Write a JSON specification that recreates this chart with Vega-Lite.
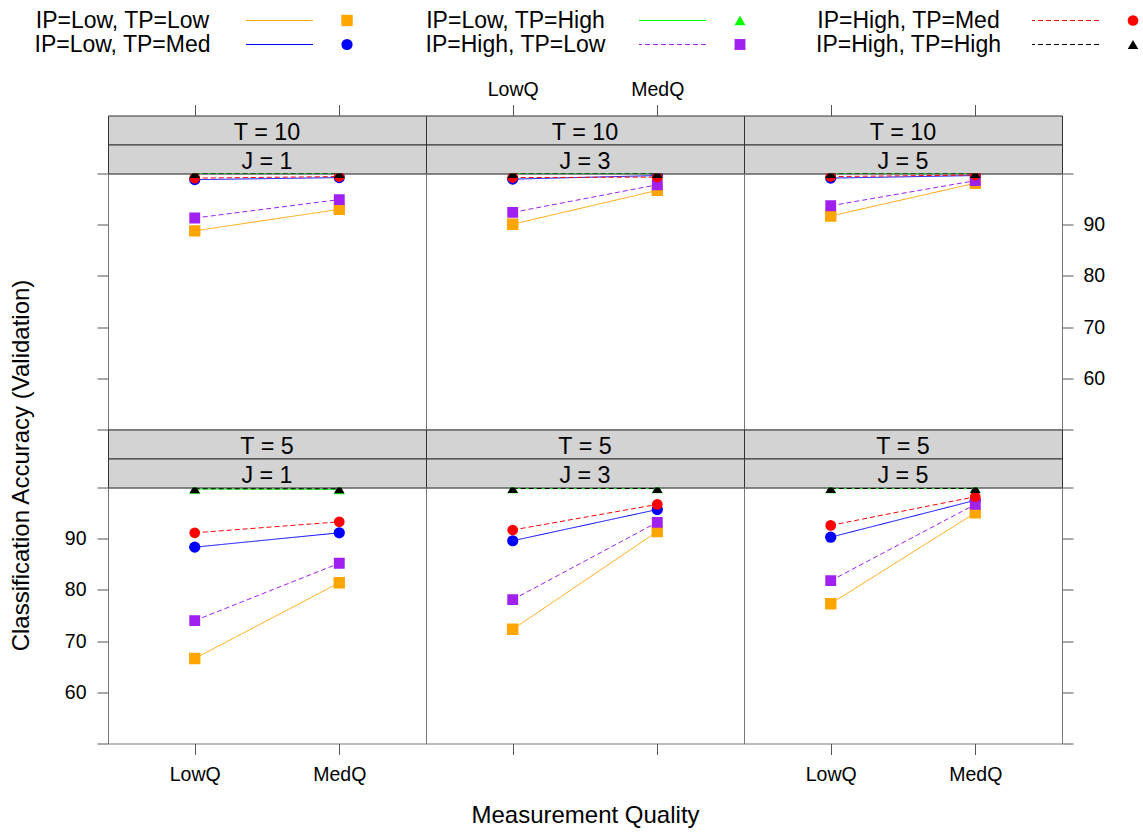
{
"$schema": "https://vega.github.io/schema/vega-lite/v6.json",
"background": "white",
"padding": {"left": 5, "top": 8.5, "right": 0, "bottom": 0},
"config": {"font": "Liberation Sans", "view": {"stroke": null}, "axis": {"grid": false, "domain": false, "tickColor": "#555", "tickSize": 11, "labelColor": "#000", "labelFontSize": 19.5, "labelFlush": false}},
"datasets": {
"keys": [{"series": "IP=Low, TP=Low"}, {"series": "IP=Low, TP=Med"}, {"series": "IP=Low, TP=High"}, {"series": "IP=High, TP=Low"}, {"series": "IP=High, TP=Med"}, {"series": "IP=High, TP=High"}],
"acc": [
{"T":10,"J":1,"Q":"LowQ","series":"IP=Low, TP=Low","acc":88.8},{"T":10,"J":1,"Q":"MedQ","series":"IP=Low, TP=Low","acc":93.0},
{"T":10,"J":1,"Q":"LowQ","series":"IP=Low, TP=Med","acc":98.8},{"T":10,"J":1,"Q":"MedQ","series":"IP=Low, TP=Med","acc":99.2},
{"T":10,"J":1,"Q":"LowQ","series":"IP=Low, TP=High","acc":100},{"T":10,"J":1,"Q":"MedQ","series":"IP=Low, TP=High","acc":100},
{"T":10,"J":1,"Q":"LowQ","series":"IP=High, TP=Low","acc":91.3},{"T":10,"J":1,"Q":"MedQ","series":"IP=High, TP=Low","acc":94.9},
{"T":10,"J":1,"Q":"LowQ","series":"IP=High, TP=Med","acc":99.1},{"T":10,"J":1,"Q":"MedQ","series":"IP=High, TP=Med","acc":99.4},
{"T":10,"J":1,"Q":"LowQ","series":"IP=High, TP=High","acc":100},{"T":10,"J":1,"Q":"MedQ","series":"IP=High, TP=High","acc":100},
{"T":10,"J":3,"Q":"LowQ","series":"IP=Low, TP=Low","acc":90.1},{"T":10,"J":3,"Q":"MedQ","series":"IP=Low, TP=Low","acc":96.7},
{"T":10,"J":3,"Q":"LowQ","series":"IP=Low, TP=Med","acc":98.9},{"T":10,"J":3,"Q":"MedQ","series":"IP=Low, TP=Med","acc":99.6},
{"T":10,"J":3,"Q":"LowQ","series":"IP=Low, TP=High","acc":100},{"T":10,"J":3,"Q":"MedQ","series":"IP=Low, TP=High","acc":100},
{"T":10,"J":3,"Q":"LowQ","series":"IP=High, TP=Low","acc":92.4},{"T":10,"J":3,"Q":"MedQ","series":"IP=High, TP=Low","acc":97.8},
{"T":10,"J":3,"Q":"LowQ","series":"IP=High, TP=Med","acc":99.2},{"T":10,"J":3,"Q":"MedQ","series":"IP=High, TP=Med","acc":99.3},
{"T":10,"J":3,"Q":"LowQ","series":"IP=High, TP=High","acc":100},{"T":10,"J":3,"Q":"MedQ","series":"IP=High, TP=High","acc":100},
{"T":10,"J":5,"Q":"LowQ","series":"IP=Low, TP=Low","acc":91.7},{"T":10,"J":5,"Q":"MedQ","series":"IP=Low, TP=Low","acc":98.1},
{"T":10,"J":5,"Q":"LowQ","series":"IP=Low, TP=Med","acc":99.1},{"T":10,"J":5,"Q":"MedQ","series":"IP=Low, TP=Med","acc":99.6},
{"T":10,"J":5,"Q":"LowQ","series":"IP=Low, TP=High","acc":100},{"T":10,"J":5,"Q":"MedQ","series":"IP=Low, TP=High","acc":100},
{"T":10,"J":5,"Q":"LowQ","series":"IP=High, TP=Low","acc":93.7},{"T":10,"J":5,"Q":"MedQ","series":"IP=High, TP=Low","acc":98.6},
{"T":10,"J":5,"Q":"LowQ","series":"IP=High, TP=Med","acc":99.4},{"T":10,"J":5,"Q":"MedQ","series":"IP=High, TP=Med","acc":99.7},
{"T":10,"J":5,"Q":"LowQ","series":"IP=High, TP=High","acc":100},{"T":10,"J":5,"Q":"MedQ","series":"IP=High, TP=High","acc":100},
{"T":5,"J":1,"Q":"LowQ","series":"IP=Low, TP=Low","acc":66.6},{"T":5,"J":1,"Q":"MedQ","series":"IP=Low, TP=Low","acc":81.4},
{"T":5,"J":1,"Q":"LowQ","series":"IP=Low, TP=Med","acc":88.35},{"T":5,"J":1,"Q":"MedQ","series":"IP=Low, TP=Med","acc":91.15},
{"T":5,"J":1,"Q":"LowQ","series":"IP=Low, TP=High","acc":99.7},{"T":5,"J":1,"Q":"MedQ","series":"IP=Low, TP=High","acc":99.6},
{"T":5,"J":1,"Q":"LowQ","series":"IP=High, TP=Low","acc":74.0},{"T":5,"J":1,"Q":"MedQ","series":"IP=High, TP=Low","acc":85.2},
{"T":5,"J":1,"Q":"LowQ","series":"IP=High, TP=Med","acc":91.15},{"T":5,"J":1,"Q":"MedQ","series":"IP=High, TP=Med","acc":93.3},
{"T":5,"J":1,"Q":"LowQ","series":"IP=High, TP=High","acc":99.75},{"T":5,"J":1,"Q":"MedQ","series":"IP=High, TP=High","acc":99.75},
{"T":5,"J":3,"Q":"LowQ","series":"IP=Low, TP=Low","acc":72.3},{"T":5,"J":3,"Q":"MedQ","series":"IP=Low, TP=Low","acc":91.4},
{"T":5,"J":3,"Q":"LowQ","series":"IP=Low, TP=Med","acc":89.6},{"T":5,"J":3,"Q":"MedQ","series":"IP=Low, TP=Med","acc":95.7},
{"T":5,"J":3,"Q":"LowQ","series":"IP=Low, TP=High","acc":99.8},{"T":5,"J":3,"Q":"MedQ","series":"IP=Low, TP=High","acc":99.8},
{"T":5,"J":3,"Q":"LowQ","series":"IP=High, TP=Low","acc":78.1},{"T":5,"J":3,"Q":"MedQ","series":"IP=High, TP=Low","acc":93.2},
{"T":5,"J":3,"Q":"LowQ","series":"IP=High, TP=Med","acc":91.7},{"T":5,"J":3,"Q":"MedQ","series":"IP=High, TP=Med","acc":96.7},
{"T":5,"J":3,"Q":"LowQ","series":"IP=High, TP=High","acc":99.8},{"T":5,"J":3,"Q":"MedQ","series":"IP=High, TP=High","acc":99.8},
{"T":5,"J":5,"Q":"LowQ","series":"IP=Low, TP=Low","acc":77.3},{"T":5,"J":5,"Q":"MedQ","series":"IP=Low, TP=Low","acc":95.05},
{"T":5,"J":5,"Q":"LowQ","series":"IP=Low, TP=Med","acc":90.3},{"T":5,"J":5,"Q":"MedQ","series":"IP=Low, TP=Med","acc":97.5},
{"T":5,"J":5,"Q":"LowQ","series":"IP=Low, TP=High","acc":99.8},{"T":5,"J":5,"Q":"MedQ","series":"IP=Low, TP=High","acc":99.8},
{"T":5,"J":5,"Q":"LowQ","series":"IP=High, TP=Low","acc":81.8},{"T":5,"J":5,"Q":"MedQ","series":"IP=High, TP=Low","acc":96.7},
{"T":5,"J":5,"Q":"LowQ","series":"IP=High, TP=Med","acc":92.6},{"T":5,"J":5,"Q":"MedQ","series":"IP=High, TP=Med","acc":98.2},
{"T":5,"J":5,"Q":"LowQ","series":"IP=High, TP=High","acc":99.8},{"T":5,"J":5,"Q":"MedQ","series":"IP=High, TP=High","acc":99.8}
]},
"spacing": 22,
"vconcat": [
{"hconcat": [
 {"hconcat": [
  {"width": 235, "height": 48, "data": {"name": "keys"}, "transform": [{"filter": {"field": "series", "oneOf": ["IP=Low, TP=Low", "IP=Low, TP=Med"]}}],
   "mark": {"type": "text", "fontSize": 23, "color": "#000"},
   "encoding": {"y": {"field": "series", "type": "nominal", "scale": {"type": "point", "domain": ["IP=Low, TP=Low", "IP=Low, TP=Med"], "padding": 0.5}, "axis": null}, "text": {"field": "series"}}},
  {"hconcat": [
   {"width": 67, "height": 48, "data": {"name": "keys"}, "transform": [{"filter": {"field": "series", "oneOf": ["IP=Low, TP=Low", "IP=Low, TP=Med"]}}],
    "mark": {"type": "rule", "strokeWidth": 1},
    "encoding": {"y": {"field": "series", "type": "nominal", "scale": {"type": "point", "domain": ["IP=Low, TP=Low", "IP=Low, TP=Med"], "padding": 0.5}, "axis": null},
     "color": {"field": "series", "type": "nominal", "scale": {"domain": ["IP=Low, TP=Low", "IP=Low, TP=Med", "IP=Low, TP=High", "IP=High, TP=Low", "IP=High, TP=Med", "IP=High, TP=High"], "range": ["#FFA500", "#0000FF", "#00FF00", "#A020F0", "#FF0000", "#000000"]}, "legend": null},
     "strokeDash": {"field": "series", "type": "nominal", "scale": {"domain": ["IP=Low, TP=Low", "IP=Low, TP=Med", "IP=Low, TP=High", "IP=High, TP=Low", "IP=High, TP=Med", "IP=High, TP=High"], "range": [[1,0],[1,0],[1,0],[5,3],[5,3],[5,3]]}, "legend": null}}},
   {"width": 24, "height": 48, "data": {"name": "keys"}, "transform": [{"filter": {"field": "series", "oneOf": ["IP=Low, TP=Low", "IP=Low, TP=Med"]}}],
    "mark": {"type": "point", "filled": true, "opacity": 1},
    "encoding": {"y": {"field": "series", "type": "nominal", "scale": {"type": "point", "domain": ["IP=Low, TP=Low", "IP=Low, TP=Med"], "padding": 0.5}, "axis": null},
     "color": {"field": "series", "type": "nominal", "scale": {"domain": ["IP=Low, TP=Low", "IP=Low, TP=Med", "IP=Low, TP=High", "IP=High, TP=Low", "IP=High, TP=Med", "IP=High, TP=High"], "range": ["#FFA500", "#0000FF", "#00FF00", "#A020F0", "#FF0000", "#000000"]}, "legend": null},
     "shape": {"field": "series", "type": "nominal", "scale": {"domain": ["IP=Low, TP=Low", "IP=Low, TP=Med", "IP=Low, TP=High", "IP=High, TP=Low", "IP=High, TP=Med", "IP=High, TP=High"], "range": ["square", "circle", "triangle-up", "square", "circle", "triangle-up"]}, "legend": null},
     "size": {"field": "series", "type": "ordinal", "scale": {"domain": ["IP=Low, TP=Low", "IP=Low, TP=Med", "IP=Low, TP=High", "IP=High, TP=Low", "IP=High, TP=Med", "IP=High, TP=High"], "range": [130, 110, 300, 130, 110, 300]}, "legend": null}}}
  ], "spacing": 21}
 ], "spacing": 5},
 {"hconcat": [
  {"width": 235, "height": 48, "data": {"name": "keys"}, "transform": [{"filter": {"field": "series", "oneOf": ["IP=Low, TP=High", "IP=High, TP=Low"]}}],
   "mark": {"type": "text", "fontSize": 23, "color": "#000"},
   "encoding": {"y": {"field": "series", "type": "nominal", "scale": {"type": "point", "domain": ["IP=Low, TP=High", "IP=High, TP=Low"], "padding": 0.5}, "axis": null}, "text": {"field": "series"}}},
  {"hconcat": [
   {"width": 67, "height": 48, "data": {"name": "keys"}, "transform": [{"filter": {"field": "series", "oneOf": ["IP=Low, TP=High", "IP=High, TP=Low"]}}],
    "mark": {"type": "rule", "strokeWidth": 1},
    "encoding": {"y": {"field": "series", "type": "nominal", "scale": {"type": "point", "domain": ["IP=Low, TP=High", "IP=High, TP=Low"], "padding": 0.5}, "axis": null},
     "color": {"field": "series", "type": "nominal", "scale": {"domain": ["IP=Low, TP=Low", "IP=Low, TP=Med", "IP=Low, TP=High", "IP=High, TP=Low", "IP=High, TP=Med", "IP=High, TP=High"], "range": ["#FFA500", "#0000FF", "#00FF00", "#A020F0", "#FF0000", "#000000"]}, "legend": null},
     "strokeDash": {"field": "series", "type": "nominal", "scale": {"domain": ["IP=Low, TP=Low", "IP=Low, TP=Med", "IP=Low, TP=High", "IP=High, TP=Low", "IP=High, TP=Med", "IP=High, TP=High"], "range": [[1,0],[1,0],[1,0],[5,3],[5,3],[5,3]]}, "legend": null}}},
   {"width": 24, "height": 48, "data": {"name": "keys"}, "transform": [{"filter": {"field": "series", "oneOf": ["IP=Low, TP=High", "IP=High, TP=Low"]}}],
    "mark": {"type": "point", "filled": true, "opacity": 1},
    "encoding": {"y": {"field": "series", "type": "nominal", "scale": {"type": "point", "domain": ["IP=Low, TP=High", "IP=High, TP=Low"], "padding": 0.5}, "axis": null},
     "color": {"field": "series", "type": "nominal", "scale": {"domain": ["IP=Low, TP=Low", "IP=Low, TP=Med", "IP=Low, TP=High", "IP=High, TP=Low", "IP=High, TP=Med", "IP=High, TP=High"], "range": ["#FFA500", "#0000FF", "#00FF00", "#A020F0", "#FF0000", "#000000"]}, "legend": null},
     "shape": {"field": "series", "type": "nominal", "scale": {"domain": ["IP=Low, TP=Low", "IP=Low, TP=Med", "IP=Low, TP=High", "IP=High, TP=Low", "IP=High, TP=Med", "IP=High, TP=High"], "range": ["square", "circle", "triangle-up", "square", "circle", "triangle-up"]}, "legend": null},
     "size": {"field": "series", "type": "ordinal", "scale": {"domain": ["IP=Low, TP=Low", "IP=Low, TP=Med", "IP=Low, TP=High", "IP=High, TP=Low", "IP=High, TP=Med", "IP=High, TP=High"], "range": [130, 110, 300, 130, 110, 300]}, "legend": null}}}
  ], "spacing": 21}
 ], "spacing": 5},
 {"hconcat": [
  {"width": 235, "height": 48, "data": {"name": "keys"}, "transform": [{"filter": {"field": "series", "oneOf": ["IP=High, TP=Med", "IP=High, TP=High"]}}],
   "mark": {"type": "text", "fontSize": 23, "color": "#000"},
   "encoding": {"y": {"field": "series", "type": "nominal", "scale": {"type": "point", "domain": ["IP=High, TP=Med", "IP=High, TP=High"], "padding": 0.5}, "axis": null}, "text": {"field": "series"}}},
  {"hconcat": [
   {"width": 67, "height": 48, "data": {"name": "keys"}, "transform": [{"filter": {"field": "series", "oneOf": ["IP=High, TP=Med", "IP=High, TP=High"]}}],
    "mark": {"type": "rule", "strokeWidth": 1},
    "encoding": {"y": {"field": "series", "type": "nominal", "scale": {"type": "point", "domain": ["IP=High, TP=Med", "IP=High, TP=High"], "padding": 0.5}, "axis": null},
     "color": {"field": "series", "type": "nominal", "scale": {"domain": ["IP=Low, TP=Low", "IP=Low, TP=Med", "IP=Low, TP=High", "IP=High, TP=Low", "IP=High, TP=Med", "IP=High, TP=High"], "range": ["#FFA500", "#0000FF", "#00FF00", "#A020F0", "#FF0000", "#000000"]}, "legend": null},
     "strokeDash": {"field": "series", "type": "nominal", "scale": {"domain": ["IP=Low, TP=Low", "IP=Low, TP=Med", "IP=Low, TP=High", "IP=High, TP=Low", "IP=High, TP=Med", "IP=High, TP=High"], "range": [[1,0],[1,0],[1,0],[5,3],[5,3],[5,3]]}, "legend": null}}},
   {"width": 24, "height": 48, "data": {"name": "keys"}, "transform": [{"filter": {"field": "series", "oneOf": ["IP=High, TP=Med", "IP=High, TP=High"]}}],
    "mark": {"type": "point", "filled": true, "opacity": 1},
    "encoding": {"y": {"field": "series", "type": "nominal", "scale": {"type": "point", "domain": ["IP=High, TP=Med", "IP=High, TP=High"], "padding": 0.5}, "axis": null},
     "color": {"field": "series", "type": "nominal", "scale": {"domain": ["IP=Low, TP=Low", "IP=Low, TP=Med", "IP=Low, TP=High", "IP=High, TP=Low", "IP=High, TP=Med", "IP=High, TP=High"], "range": ["#FFA500", "#0000FF", "#00FF00", "#A020F0", "#FF0000", "#000000"]}, "legend": null},
     "shape": {"field": "series", "type": "nominal", "scale": {"domain": ["IP=Low, TP=Low", "IP=Low, TP=Med", "IP=Low, TP=High", "IP=High, TP=Low", "IP=High, TP=Med", "IP=High, TP=High"], "range": ["square", "circle", "triangle-up", "square", "circle", "triangle-up"]}, "legend": null},
     "size": {"field": "series", "type": "ordinal", "scale": {"domain": ["IP=Low, TP=Low", "IP=Low, TP=Med", "IP=Low, TP=High", "IP=High, TP=Low", "IP=High, TP=Med", "IP=High, TP=High"], "range": [130, 110, 300, 130, 110, 300]}, "legend": null}}}
  ], "spacing": 21}
 ], "spacing": 5}
], "spacing": 39},
{"hconcat": [
 {"width": 33, "height": 700, "data": {"values": [{"t": "Classification Accuracy (Validation)"}]}, "mark": {"type": "text", "angle": 270, "fontSize": 24, "color": "#000"}, "encoding": {"text": {"field": "t"}}},
 {"concat": [
  {"width": 318, "height": 29, "view": {"fill": "#D3D3D3", "stroke": "#333"}, "data": {"values": [{"s": "T = 10"}]}, "mark": {"type": "text", "fontSize": 23.3, "dy": 3, "color": "#000"}, "encoding": {"text": {"field": "s"}}},
  {"width": 318, "height": 29, "view": {"fill": "#D3D3D3", "stroke": "#333"}, "data": {"values": [{"s": "T = 10"}]}, "mark": {"type": "text", "fontSize": 23.3, "dy": 3, "color": "#000"}, "encoding": {"text": {"field": "s"}}},
  {"width": 318, "height": 29, "view": {"fill": "#D3D3D3", "stroke": "#333"}, "data": {"values": [{"s": "T = 10"}]}, "mark": {"type": "text", "fontSize": 23.3, "dy": 3, "color": "#000"}, "encoding": {"text": {"field": "s"}}},
  {"width": 318, "height": 29, "view": {"fill": "#D3D3D3", "stroke": "#333"}, "data": {"values": [{"s": "J = 1"}]}, "mark": {"type": "text", "fontSize": 23.3, "dy": 3, "color": "#000"}, "encoding": {"text": {"field": "s"}}},
  {"width": 318, "height": 29, "view": {"fill": "#D3D3D3", "stroke": "#333"}, "data": {"values": [{"s": "J = 3"}]}, "mark": {"type": "text", "fontSize": 23.3, "dy": 3, "color": "#000"}, "encoding": {"text": {"field": "s"}}},
  {"width": 318, "height": 29, "view": {"fill": "#D3D3D3", "stroke": "#333"}, "data": {"values": [{"s": "J = 5"}]}, "mark": {"type": "text", "fontSize": 23.3, "dy": 3, "color": "#000"}, "encoding": {"text": {"field": "s"}}},
  {"width": 318, "height": 256, "view": {"stroke": "#777"}, "data": {"name": "acc"}, "transform": [{"filter": "datum.T == 10 && datum.J == 1"}],
   "encoding": {"x": {"field": "Q", "type": "nominal", "scale": {"type": "point", "domain": ["LowQ", "MedQ"], "padding": 0.6}, "axis": {"orient": "top", "offset": 58, "labels": false, "title": null}},
    "y": {"field": "acc", "type": "quantitative", "scale": {"domain": [50, 100], "nice": false, "zero": false}, "axis": {"orient": "left", "values": [50, 60, 70, 80, 90, 100], "labels": false, "title": null}}},
   "layer": [
    {"mark": {"type": "line", "strokeWidth": 1, "clip": true}, "encoding": {"color": {"field": "series", "type": "nominal", "scale": {"domain": ["IP=Low, TP=Low", "IP=Low, TP=Med", "IP=Low, TP=High", "IP=High, TP=Low", "IP=High, TP=Med", "IP=High, TP=High"], "range": ["#FFA500", "#0000FF", "#00FF00", "#A020F0", "#FF0000", "#000000"]}, "legend": null}, "strokeDash": {"field": "series", "type": "nominal", "scale": {"domain": ["IP=Low, TP=Low", "IP=Low, TP=Med", "IP=Low, TP=High", "IP=High, TP=Low", "IP=High, TP=Med", "IP=High, TP=High"], "range": [[1,0],[1,0],[1,0],[5,3],[5,3],[5,3]]}, "legend": null}}},
    {"mark": {"type": "point", "filled": true, "opacity": 1, "clip": true}, "encoding": {"color": {"field": "series", "type": "nominal", "scale": {"domain": ["IP=Low, TP=Low", "IP=Low, TP=Med", "IP=Low, TP=High", "IP=High, TP=Low", "IP=High, TP=Med", "IP=High, TP=High"], "range": ["#FFA500", "#0000FF", "#00FF00", "#A020F0", "#FF0000", "#000000"]}, "legend": null}, "shape": {"field": "series", "type": "nominal", "scale": {"domain": ["IP=Low, TP=Low", "IP=Low, TP=Med", "IP=Low, TP=High", "IP=High, TP=Low", "IP=High, TP=Med", "IP=High, TP=High"], "range": ["square", "circle", "triangle-up", "square", "circle", "triangle-up"]}, "legend": null}, "size": {"field": "series", "type": "ordinal", "scale": {"domain": ["IP=Low, TP=Low", "IP=Low, TP=Med", "IP=Low, TP=High", "IP=High, TP=Low", "IP=High, TP=Med", "IP=High, TP=High"], "range": [95, 80, 220, 95, 80, 220]}, "legend": null}}}
   ]},
  {"width": 318, "height": 256, "view": {"stroke": "#777"}, "data": {"name": "acc"}, "transform": [{"filter": "datum.T == 10 && datum.J == 3"}],
   "encoding": {"x": {"field": "Q", "type": "nominal", "scale": {"type": "point", "domain": ["LowQ", "MedQ"], "padding": 0.6}, "axis": {"orient": "top", "offset": 58, "labelPadding": 5, "labelAngle": 0, "title": null}},
    "y": {"field": "acc", "type": "quantitative", "scale": {"domain": [50, 100], "nice": false, "zero": false}, "axis": null}},
   "layer": [
    {"mark": {"type": "line", "strokeWidth": 1, "clip": true}, "encoding": {"color": {"field": "series", "type": "nominal", "scale": {"domain": ["IP=Low, TP=Low", "IP=Low, TP=Med", "IP=Low, TP=High", "IP=High, TP=Low", "IP=High, TP=Med", "IP=High, TP=High"], "range": ["#FFA500", "#0000FF", "#00FF00", "#A020F0", "#FF0000", "#000000"]}, "legend": null}, "strokeDash": {"field": "series", "type": "nominal", "scale": {"domain": ["IP=Low, TP=Low", "IP=Low, TP=Med", "IP=Low, TP=High", "IP=High, TP=Low", "IP=High, TP=Med", "IP=High, TP=High"], "range": [[1,0],[1,0],[1,0],[5,3],[5,3],[5,3]]}, "legend": null}}},
    {"mark": {"type": "point", "filled": true, "opacity": 1, "clip": true}, "encoding": {"color": {"field": "series", "type": "nominal", "scale": {"domain": ["IP=Low, TP=Low", "IP=Low, TP=Med", "IP=Low, TP=High", "IP=High, TP=Low", "IP=High, TP=Med", "IP=High, TP=High"], "range": ["#FFA500", "#0000FF", "#00FF00", "#A020F0", "#FF0000", "#000000"]}, "legend": null}, "shape": {"field": "series", "type": "nominal", "scale": {"domain": ["IP=Low, TP=Low", "IP=Low, TP=Med", "IP=Low, TP=High", "IP=High, TP=Low", "IP=High, TP=Med", "IP=High, TP=High"], "range": ["square", "circle", "triangle-up", "square", "circle", "triangle-up"]}, "legend": null}, "size": {"field": "series", "type": "ordinal", "scale": {"domain": ["IP=Low, TP=Low", "IP=Low, TP=Med", "IP=Low, TP=High", "IP=High, TP=Low", "IP=High, TP=Med", "IP=High, TP=High"], "range": [95, 80, 220, 95, 80, 220]}, "legend": null}}}
   ]},
  {"width": 318, "height": 256, "view": {"stroke": "#777"}, "data": {"name": "acc"}, "transform": [{"filter": "datum.T == 10 && datum.J == 5"}],
   "encoding": {"x": {"field": "Q", "type": "nominal", "scale": {"type": "point", "domain": ["LowQ", "MedQ"], "padding": 0.6}, "axis": {"orient": "top", "offset": 58, "labels": false, "title": null}},
    "y": {"field": "acc", "type": "quantitative", "scale": {"domain": [50, 100], "nice": false, "zero": false}, "axis": {"orient": "right", "values": [50, 60, 70, 80, 90, 100], "labelExpr": "datum.value >= 60 && datum.value <= 90 ? datum.label : ''", "labelPadding": 10, "title": null}}},
   "layer": [
    {"mark": {"type": "line", "strokeWidth": 1, "clip": true}, "encoding": {"color": {"field": "series", "type": "nominal", "scale": {"domain": ["IP=Low, TP=Low", "IP=Low, TP=Med", "IP=Low, TP=High", "IP=High, TP=Low", "IP=High, TP=Med", "IP=High, TP=High"], "range": ["#FFA500", "#0000FF", "#00FF00", "#A020F0", "#FF0000", "#000000"]}, "legend": null}, "strokeDash": {"field": "series", "type": "nominal", "scale": {"domain": ["IP=Low, TP=Low", "IP=Low, TP=Med", "IP=Low, TP=High", "IP=High, TP=Low", "IP=High, TP=Med", "IP=High, TP=High"], "range": [[1,0],[1,0],[1,0],[5,3],[5,3],[5,3]]}, "legend": null}}},
    {"mark": {"type": "point", "filled": true, "opacity": 1, "clip": true}, "encoding": {"color": {"field": "series", "type": "nominal", "scale": {"domain": ["IP=Low, TP=Low", "IP=Low, TP=Med", "IP=Low, TP=High", "IP=High, TP=Low", "IP=High, TP=Med", "IP=High, TP=High"], "range": ["#FFA500", "#0000FF", "#00FF00", "#A020F0", "#FF0000", "#000000"]}, "legend": null}, "shape": {"field": "series", "type": "nominal", "scale": {"domain": ["IP=Low, TP=Low", "IP=Low, TP=Med", "IP=Low, TP=High", "IP=High, TP=Low", "IP=High, TP=Med", "IP=High, TP=High"], "range": ["square", "circle", "triangle-up", "square", "circle", "triangle-up"]}, "legend": null}, "size": {"field": "series", "type": "ordinal", "scale": {"domain": ["IP=Low, TP=Low", "IP=Low, TP=Med", "IP=Low, TP=High", "IP=High, TP=Low", "IP=High, TP=Med", "IP=High, TP=High"], "range": [95, 80, 220, 95, 80, 220]}, "legend": null}}}
   ]},
  {"width": 318, "height": 29, "view": {"fill": "#D3D3D3", "stroke": "#333"}, "data": {"values": [{"s": "T = 5"}]}, "mark": {"type": "text", "fontSize": 23.3, "dy": 3, "color": "#000"}, "encoding": {"text": {"field": "s"}}},
  {"width": 318, "height": 29, "view": {"fill": "#D3D3D3", "stroke": "#333"}, "data": {"values": [{"s": "T = 5"}]}, "mark": {"type": "text", "fontSize": 23.3, "dy": 3, "color": "#000"}, "encoding": {"text": {"field": "s"}}},
  {"width": 318, "height": 29, "view": {"fill": "#D3D3D3", "stroke": "#333"}, "data": {"values": [{"s": "T = 5"}]}, "mark": {"type": "text", "fontSize": 23.3, "dy": 3, "color": "#000"}, "encoding": {"text": {"field": "s"}}},
  {"width": 318, "height": 29, "view": {"fill": "#D3D3D3", "stroke": "#333"}, "data": {"values": [{"s": "J = 1"}]}, "mark": {"type": "text", "fontSize": 23.3, "dy": 3, "color": "#000"}, "encoding": {"text": {"field": "s"}}},
  {"width": 318, "height": 29, "view": {"fill": "#D3D3D3", "stroke": "#333"}, "data": {"values": [{"s": "J = 3"}]}, "mark": {"type": "text", "fontSize": 23.3, "dy": 3, "color": "#000"}, "encoding": {"text": {"field": "s"}}},
  {"width": 318, "height": 29, "view": {"fill": "#D3D3D3", "stroke": "#333"}, "data": {"values": [{"s": "J = 5"}]}, "mark": {"type": "text", "fontSize": 23.3, "dy": 3, "color": "#000"}, "encoding": {"text": {"field": "s"}}},
  {"width": 318, "height": 256, "view": {"stroke": "#777"}, "data": {"name": "acc"}, "transform": [{"filter": "datum.T == 5 && datum.J == 1"}],
   "encoding": {"x": {"field": "Q", "type": "nominal", "scale": {"type": "point", "domain": ["LowQ", "MedQ"], "padding": 0.6}, "axis": {"orient": "bottom", "labelPadding": 11, "labelAngle": 0, "title": null}},
    "y": {"field": "acc", "type": "quantitative", "scale": {"domain": [50, 100], "nice": false, "zero": false}, "axis": {"orient": "left", "values": [50, 60, 70, 80, 90, 100], "labelExpr": "datum.value >= 60 && datum.value <= 90 ? datum.label : ''", "labelPadding": 11, "title": null}}},
   "layer": [
    {"mark": {"type": "line", "strokeWidth": 1, "clip": true}, "encoding": {"color": {"field": "series", "type": "nominal", "scale": {"domain": ["IP=Low, TP=Low", "IP=Low, TP=Med", "IP=Low, TP=High", "IP=High, TP=Low", "IP=High, TP=Med", "IP=High, TP=High"], "range": ["#FFA500", "#0000FF", "#00FF00", "#A020F0", "#FF0000", "#000000"]}, "legend": null}, "strokeDash": {"field": "series", "type": "nominal", "scale": {"domain": ["IP=Low, TP=Low", "IP=Low, TP=Med", "IP=Low, TP=High", "IP=High, TP=Low", "IP=High, TP=Med", "IP=High, TP=High"], "range": [[1,0],[1,0],[1,0],[5,3],[5,3],[5,3]]}, "legend": null}}},
    {"mark": {"type": "point", "filled": true, "opacity": 1, "clip": true}, "encoding": {"color": {"field": "series", "type": "nominal", "scale": {"domain": ["IP=Low, TP=Low", "IP=Low, TP=Med", "IP=Low, TP=High", "IP=High, TP=Low", "IP=High, TP=Med", "IP=High, TP=High"], "range": ["#FFA500", "#0000FF", "#00FF00", "#A020F0", "#FF0000", "#000000"]}, "legend": null}, "shape": {"field": "series", "type": "nominal", "scale": {"domain": ["IP=Low, TP=Low", "IP=Low, TP=Med", "IP=Low, TP=High", "IP=High, TP=Low", "IP=High, TP=Med", "IP=High, TP=High"], "range": ["square", "circle", "triangle-up", "square", "circle", "triangle-up"]}, "legend": null}, "size": {"field": "series", "type": "ordinal", "scale": {"domain": ["IP=Low, TP=Low", "IP=Low, TP=Med", "IP=Low, TP=High", "IP=High, TP=Low", "IP=High, TP=Med", "IP=High, TP=High"], "range": [95, 80, 220, 95, 80, 220]}, "legend": null}}}
   ]},
  {"width": 318, "height": 256, "view": {"stroke": "#777"}, "data": {"name": "acc"}, "transform": [{"filter": "datum.T == 5 && datum.J == 3"}],
   "encoding": {"x": {"field": "Q", "type": "nominal", "scale": {"type": "point", "domain": ["LowQ", "MedQ"], "padding": 0.6}, "axis": {"orient": "bottom", "labels": false, "title": "Measurement Quality", "titleFontSize": 24, "titleFontWeight": "normal", "titleColor": "#000", "titlePadding": 48}},
    "y": {"field": "acc", "type": "quantitative", "scale": {"domain": [50, 100], "nice": false, "zero": false}, "axis": null}},
   "layer": [
    {"mark": {"type": "line", "strokeWidth": 1, "clip": true}, "encoding": {"color": {"field": "series", "type": "nominal", "scale": {"domain": ["IP=Low, TP=Low", "IP=Low, TP=Med", "IP=Low, TP=High", "IP=High, TP=Low", "IP=High, TP=Med", "IP=High, TP=High"], "range": ["#FFA500", "#0000FF", "#00FF00", "#A020F0", "#FF0000", "#000000"]}, "legend": null}, "strokeDash": {"field": "series", "type": "nominal", "scale": {"domain": ["IP=Low, TP=Low", "IP=Low, TP=Med", "IP=Low, TP=High", "IP=High, TP=Low", "IP=High, TP=Med", "IP=High, TP=High"], "range": [[1,0],[1,0],[1,0],[5,3],[5,3],[5,3]]}, "legend": null}}},
    {"mark": {"type": "point", "filled": true, "opacity": 1, "clip": true}, "encoding": {"color": {"field": "series", "type": "nominal", "scale": {"domain": ["IP=Low, TP=Low", "IP=Low, TP=Med", "IP=Low, TP=High", "IP=High, TP=Low", "IP=High, TP=Med", "IP=High, TP=High"], "range": ["#FFA500", "#0000FF", "#00FF00", "#A020F0", "#FF0000", "#000000"]}, "legend": null}, "shape": {"field": "series", "type": "nominal", "scale": {"domain": ["IP=Low, TP=Low", "IP=Low, TP=Med", "IP=Low, TP=High", "IP=High, TP=Low", "IP=High, TP=Med", "IP=High, TP=High"], "range": ["square", "circle", "triangle-up", "square", "circle", "triangle-up"]}, "legend": null}, "size": {"field": "series", "type": "ordinal", "scale": {"domain": ["IP=Low, TP=Low", "IP=Low, TP=Med", "IP=Low, TP=High", "IP=High, TP=Low", "IP=High, TP=Med", "IP=High, TP=High"], "range": [95, 80, 220, 95, 80, 220]}, "legend": null}}}
   ]},
  {"width": 318, "height": 256, "view": {"stroke": "#777"}, "data": {"name": "acc"}, "transform": [{"filter": "datum.T == 5 && datum.J == 5"}],
   "encoding": {"x": {"field": "Q", "type": "nominal", "scale": {"type": "point", "domain": ["LowQ", "MedQ"], "padding": 0.6}, "axis": {"orient": "bottom", "labelPadding": 11, "labelAngle": 0, "title": null}},
    "y": {"field": "acc", "type": "quantitative", "scale": {"domain": [50, 100], "nice": false, "zero": false}, "axis": {"orient": "right", "values": [50, 60, 70, 80, 90, 100], "labels": false, "title": null}}},
   "layer": [
    {"mark": {"type": "line", "strokeWidth": 1, "clip": true}, "encoding": {"color": {"field": "series", "type": "nominal", "scale": {"domain": ["IP=Low, TP=Low", "IP=Low, TP=Med", "IP=Low, TP=High", "IP=High, TP=Low", "IP=High, TP=Med", "IP=High, TP=High"], "range": ["#FFA500", "#0000FF", "#00FF00", "#A020F0", "#FF0000", "#000000"]}, "legend": null}, "strokeDash": {"field": "series", "type": "nominal", "scale": {"domain": ["IP=Low, TP=Low", "IP=Low, TP=Med", "IP=Low, TP=High", "IP=High, TP=Low", "IP=High, TP=Med", "IP=High, TP=High"], "range": [[1,0],[1,0],[1,0],[5,3],[5,3],[5,3]]}, "legend": null}}},
    {"mark": {"type": "point", "filled": true, "opacity": 1, "clip": true}, "encoding": {"color": {"field": "series", "type": "nominal", "scale": {"domain": ["IP=Low, TP=Low", "IP=Low, TP=Med", "IP=Low, TP=High", "IP=High, TP=Low", "IP=High, TP=Med", "IP=High, TP=High"], "range": ["#FFA500", "#0000FF", "#00FF00", "#A020F0", "#FF0000", "#000000"]}, "legend": null}, "shape": {"field": "series", "type": "nominal", "scale": {"domain": ["IP=Low, TP=Low", "IP=Low, TP=Med", "IP=Low, TP=High", "IP=High, TP=Low", "IP=High, TP=Med", "IP=High, TP=High"], "range": ["square", "circle", "triangle-up", "square", "circle", "triangle-up"]}, "legend": null}, "size": {"field": "series", "type": "ordinal", "scale": {"domain": ["IP=Low, TP=Low", "IP=Low, TP=Med", "IP=Low, TP=High", "IP=High, TP=Low", "IP=High, TP=Med", "IP=High, TP=High"], "range": [95, 80, 220, 95, 80, 220]}, "legend": null}}}
   ]}
 ], "columns": 3, "spacing": 0, "bounds": "flush"}
], "spacing": 25}
]
}
